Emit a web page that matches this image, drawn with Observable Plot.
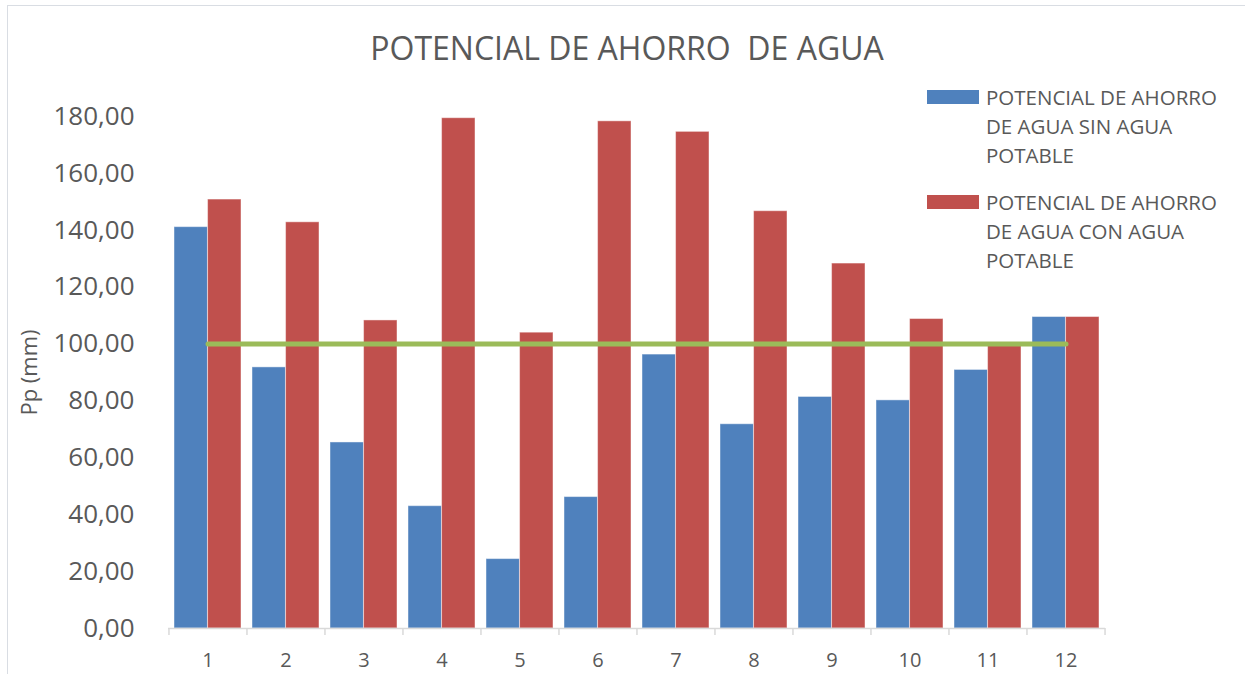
<!DOCTYPE html>
<html>
<head>
<meta charset="utf-8">
<script src="https://cdn.jsdelivr.net/npm/d3@7"></script>
<script src="https://cdn.jsdelivr.net/npm/@observablehq/plot@0.6"></script>
<style>
  html, body { margin: 0; padding: 0; background: #fff; }
  #wrap { position: relative; width: 1245px; height: 674px; overflow: hidden; font-family: "Open Sans", sans-serif; color: #595959; }
  #frame { position: absolute; left: 7px; top: 5px; width: 1240px; height: 700px; border: 1px solid #d9dde3; box-sizing: border-box; }
  #chart { position: absolute; left: 0; top: 0; }
  #title { position: absolute; left: 0; width: 1254px; top: 28px; text-align: center; font-size: 32px; white-space: pre; line-height: 40px; }
  .leg { position: absolute; left: 927px; }
  .sw { position: absolute; left: 0; width: 52px; height: 14px; }
  .lt { position: absolute; left: 59px; font-size: 20.5px; line-height: 29px; white-space: nowrap; }
</style>
</head>
<body>
<div id="wrap">
  <div id="frame"></div>
  <div id="chart"></div>
  <div id="title"></div>
  <div id="legend"></div>
</div>
<script>
const categories = ["1","2","3","4","5","6","7","8","9","10","11","12"];
const sinAguaPotable = [141.1, 91.8, 65.4, 43.0, 24.4, 46.2, 96.3, 71.8, 81.4, 80.2, 90.9, 109.5];
const conAguaPotable = [150.8, 142.8, 108.3, 179.4, 104.0, 178.3, 174.6, 146.7, 128.3, 108.8, 100.3, 109.5];
const referencia = [100, 100, 100, 100, 100, 100, 100, 100, 100, 100, 100, 100];
const yTicks = [0, 20, 40, 60, 80, 100, 120, 140, 160, 180];
const titleText = "POTENCIAL DE AHORRO  DE AGUA";
const yLabel = "Pp (mm)";
const seriesNames = [
  ["POTENCIAL DE AHORRO", "DE AGUA SIN AGUA", "POTABLE"],
  ["POTENCIAL DE AHORRO", "DE AGUA CON AGUA", "POTABLE"]
];
const seriesColors = ["#4F81BD", "#C0504D"];
const lineColor = "#9BBB59";

const blue = categories.map((c, i) => ({cat: c, v: sinAguaPotable[i]}));
const red = categories.map((c, i) => ({cat: c, v: conAguaPotable[i]}));
const ref = categories.map((c, i) => ({cat: c, v: referencia[i]}));

const W = 1245, H = 674, ML = 168, MR = 140, MT = 116, MB = 46;
const step = (W - ML - MR) / categories.length;
const bw = step * 0.86;

const chart = Plot.plot({
  width: W, height: H,
  marginLeft: ML, marginRight: MR, marginTop: MT, marginBottom: MB,
  x: {type: "band", domain: categories, paddingInner: 0.14, paddingOuter: 0.07},
  y: {domain: [0, 180]},
  style: {fontFamily: "Open Sans, sans-serif", color: "#595959", background: "transparent", overflow: "visible"},
  marks: [
    Plot.barY(blue, {x: "cat", y: "v", fill: seriesColors[0], insetLeft: 0, insetRight: bw / 2, stroke: "#ffffff", strokeOpacity: 0.45, strokeWidth: 1}),
    Plot.barY(red, {x: "cat", y: "v", fill: seriesColors[1], insetLeft: bw / 2, insetRight: 0, stroke: "#ffffff", strokeOpacity: 0.45, strokeWidth: 1}),
    Plot.ruleY([0], {stroke: "#d9d9d9", strokeWidth: 1.5}),
    Plot.ruleX(categories, {x: d => d, dx: -step / 2, insetTop: H - MT - MB, insetBottom: -7, stroke: "#d9d9d9", strokeWidth: 1.5}),
    Plot.ruleX([categories[categories.length - 1]], {x: d => d, dx: step / 2, insetTop: H - MT - MB, insetBottom: -7, stroke: "#d9d9d9", strokeWidth: 1.5}),
    Plot.lineY(ref, {x: "cat", y: "v", stroke: lineColor, strokeWidth: 5, strokeLinecap: "round"}),
    Plot.axisY({ticks: yTicks, tickFormat: d => d.toFixed(2).replace(".", ","), tickSize: 0, tickPadding: 34, fontSize: 26, label: null}),
    Plot.axisX({tickSize: 0, tickPadding: 24, fontSize: 20, label: null}),
    Plot.text([yLabel], {text: d => d, frameAnchor: "left", textAnchor: "middle", lineAnchor: "middle", rotate: -90, dx: -139, fontSize: 22, fill: "#595959"})
  ]
});
document.getElementById("chart").appendChild(chart);
document.getElementById("title").textContent = titleText;

const legend = document.getElementById("legend");
const tops = [83, 188];
seriesNames.forEach((lines, i) => {
  const g = document.createElement("div");
  g.className = "leg";
  g.style.top = tops[i] + "px";
  const sw = document.createElement("div");
  sw.className = "sw";
  sw.style.top = "7px";
  sw.style.background = seriesColors[i];
  g.appendChild(sw);
  lines.forEach((t, j) => {
    const l = document.createElement("div");
    l.className = "lt";
    l.style.top = (j * 29) + "px";
    l.textContent = t;
    g.appendChild(l);
  });
  legend.appendChild(g);
});
</script>
</body>
</html>
